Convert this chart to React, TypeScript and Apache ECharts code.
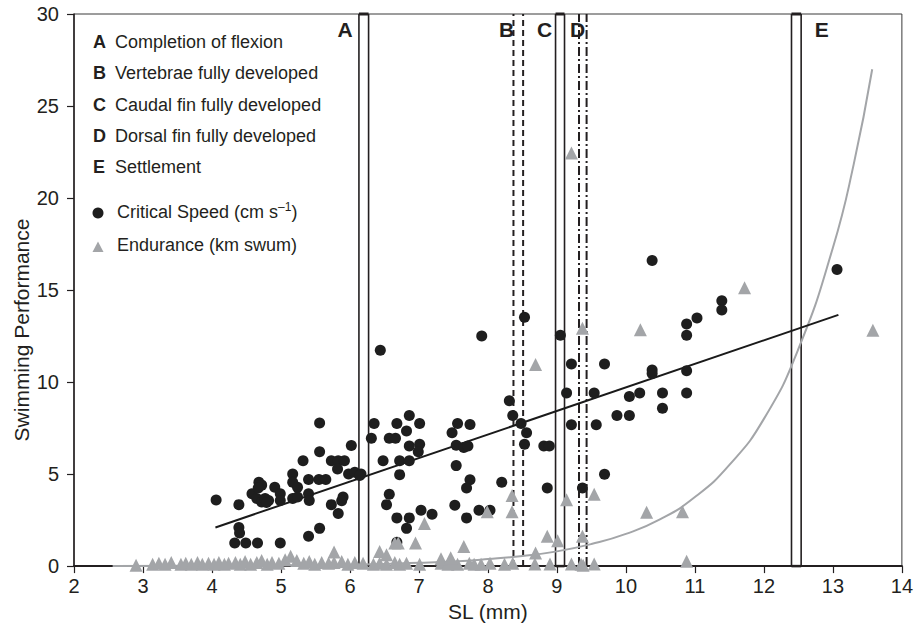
import React, { useEffect, useRef } from "react";
import * as echarts from "echarts";

// ---------- data ----------
const criticalSpeed: number[][] = [
  [4.06, 3.59], [4.39, 3.34], [4.39, 2.1], [4.4, 1.8], [4.33, 1.26], [4.49, 1.26], [4.66, 1.26], [4.99, 1.26],
  [4.58, 3.93], [4.68, 4.56], [4.72, 4.4], [4.65, 3.67], [4.72, 3.48], [4.77, 3.67], [4.82, 3.57], [4.67, 4.24], [4.79, 3.46],
  [4.91, 4.29], [4.99, 3.93], [4.99, 3.57],
  [5.17, 5.01], [5.17, 4.56], [5.24, 4.29], [5.17, 3.67], [5.24, 3.75],
  [5.32, 5.73], [5.4, 4.7], [5.4, 3.93], [5.41, 3.57], [5.4, 1.62],
  [5.56, 2.05], [5.56, 7.77], [5.56, 6.21], [5.55, 4.7], [5.65, 4.7],
  [5.73, 5.73], [5.83, 5.73], [5.92, 5.73], [5.82, 5.28], [5.73, 3.34], [5.83, 2.86], [5.9, 3.75], [5.88, 3.55],
  [6.02, 6.55], [5.98, 5.01], [6.07, 5.1], [6.16, 5.01],
  [6.44, 11.73], [6.35, 7.75], [6.31, 6.95], [6.14, 4.92], [6.48, 5.73], [6.57, 3.9], [6.53, 3.34], [6.57, 6.95],
  [6.66, 6.95], [6.68, 7.75], [6.82, 7.34], [6.86, 8.18], [7.01, 7.75], [6.86, 6.53], [7.01, 6.62], [6.99, 6.21],
  [6.72, 5.73], [6.86, 5.73], [6.72, 4.97], [6.68, 2.62], [6.86, 2.62], [6.82, 2.05], [7.03, 3.04], [7.19, 2.82], [6.68, 1.3],
  [7.48, 7.25], [7.56, 7.75], [7.74, 7.7], [7.54, 6.57], [7.65, 6.44], [7.71, 6.53], [7.54, 5.46], [7.74, 4.69],
  [7.69, 4.24], [7.52, 3.31], [7.69, 2.62], [7.87, 3.04], [8.03, 3.04], [8.2, 4.56], [7.91, 12.5], [8.31, 8.99],
  [8.36, 8.18], [8.48, 7.75], [8.53, 13.52], [8.56, 7.25], [8.53, 6.62],
  [8.81, 6.53], [8.89, 6.53], [8.86, 4.24], [9.05, 12.54], [9.21, 10.98], [9.14, 9.4], [9.21, 7.68], [9.37, 4.24],
  [9.54, 9.4], [9.57, 7.68], [9.69, 10.98], [9.69, 4.99], [9.87, 8.18], [10.05, 8.18], [10.05, 9.22], [10.2, 9.4],
  [10.38, 16.6], [10.38, 10.66], [10.38, 10.47], [10.53, 9.4], [10.53, 8.58], [10.88, 13.16], [10.88, 12.54],
  [10.88, 10.62], [10.88, 9.4], [11.03, 13.48], [11.39, 14.42], [11.39, 13.92], [13.06, 16.12],
];

const endurance: number[][] = [
  [2.9, 0.05], [3.14, 0.1], [3.23, 0.15], [3.32, 0.1], [3.41, 0.2], [3.55, 0.1], [3.62, 0.15], [3.7, 0.1],
  [3.79, 0.2], [3.86, 0.1], [3.95, 0.15], [4.03, 0.1], [4.1, 0.2], [4.18, 0.1], [4.24, 0.15], [4.34, 0.2],
  [4.41, 0.1], [4.48, 0.25], [4.56, 0.1], [4.65, 0.2], [4.72, 0.3], [4.8, 0.1], [4.87, 0.2], [4.97, 0.15],
  [5.06, 0.35], [5.14, 0.53], [5.23, 0.3], [5.33, 0.15], [5.41, 0.25], [5.49, 0.1], [5.59, 0.2], [5.69, 0.15],
  [5.77, 0.76], [5.77, 0.2], [5.88, 0.25], [5.97, 0.1], [6.07, 0.2],
  [6.19, 0.15], [6.34, 0.1], [6.43, 0.15], [6.53, 0.1], [6.65, 0.2], [6.72, 0.1], [6.82, 0.15], [7.01, 0.1],
  [7.32, 0.15], [7.42, 0.1], [7.49, 0.2], [7.56, 0.1], [7.73, 0.15], [7.8, 0.1], [7.9, 0.1], [8.03, 0.15],
  [8.24, 0.1], [8.36, 0.15],
  [6.43, 0.8], [6.53, 0.62], [6.65, 1.25], [6.7, 1.25], [6.95, 1.25], [7.08, 2.32], [7.65, 1.06], [7.99, 2.95],
  [8.35, 3.84], [8.35, 2.95], [7.32, 0.4], [7.46, 0.45],
  [8.69, 10.96], [8.86, 1.62], [9.01, 1.38], [9.14, 3.6], [9.37, 12.93], [9.37, 1.62], [9.54, 3.9], [10.21, 12.84],
  [10.3, 2.93], [10.82, 2.95], [10.88, 0.26], [11.72, 15.13], [13.58, 12.81], [9.21, 22.45], [8.69, 0.71],
  [8.68, 0.12], [8.9, 0.12], [9.21, 0.12], [9.35, 0.1], [9.38, 0.05], [9.54, 0.12],
];

const speedFit: number[][] = [[4.05, 2.1], [13.08, 13.65]];

const enduranceFit: number[][] = [
  [2.56, 0], [4, 0.02], [5, 0.04], [6, 0.08], [7, 0.18], [7.5, 0.25], [8, 0.38], [8.5, 0.55], [9, 0.8],
  [9.5, 1.2], [10, 1.75], [10.5, 2.55], [11, 3.75], [11.5, 5.5], [12, 8.0], [12.5, 11.8], [13, 17.3],
  [13.3, 21.8], [13.57, 27.0],
];

const stageLetters = ["A", "B", "C", "D", "E"];
const stageLabelX = [5.93, 8.27, 8.82, 9.3, 12.84];
const stageLabelY = 29.14;
const stageLeft = [6.13, 8.37, 8.98, 9.32, 12.4];
const stageRight = [6.27, 8.51, 9.11, 9.43, 12.54];
const stageNames = [
  "Completion of flexion",
  "Vertebrae fully developed",
  "Caudal fin fully developed",
  "Dorsal fin fully developed",
  "Settlement",
];

const xAxisName = "SL (mm)";
const yAxisName = "Swimming Performance";

// ---------- presentation ----------
const FONT = "'Liberation Sans', Arial, Helvetica, sans-serif";
const TXT = "#231f20";
const STAGE_KIND = ["box", "dashed", "box", "dashdot", "box"];

function stageSeries(): any[] {
  const out: any[] = [];
  const base = {
    type: "line",
    symbol: "none",
    silent: true,
    clip: false,
    z: 1,
    animation: false,
  };
  stageLetters.forEach((_, i) => {
    const L = stageLeft[i];
    const R = stageRight[i];
    const kind = STAGE_KIND[i];
    let ls: any = { color: TXT, width: 1.6, type: "solid" };
    if (kind === "dashed") ls = { color: TXT, width: 2, type: [6, 4] };
    if (kind === "dashdot") ls = { color: TXT, width: 2, type: [9, 3, 2, 3] };
    out.push({ ...base, data: [[L, 0], [L, 30]], lineStyle: ls });
    out.push({ ...base, data: [[R, 0], [R, 30]], lineStyle: ls });
    if (kind === "box") {
      out.push({ ...base, data: [[L, 30], [R, 30]], lineStyle: { color: TXT, width: 3 } });
      out.push({ ...base, data: [[L, 0], [R, 0]], lineStyle: { color: TXT, width: 2.5 } });
    }
  });
  return out;
}

function legendGraphics(): any[] {
  const els: any[] = [];
  const rowY = [44, 75, 107, 138, 169];
  stageLetters.forEach((l, i) => {
    els.push({
      type: "text",
      left: 93,
      top: rowY[i] - 11,
      style: { text: l, font: `bold 18px ${FONT}`, fill: TXT },
    });
    els.push({
      type: "text",
      left: 115,
      top: rowY[i] - 11,
      style: { text: stageNames[i], font: `18px ${FONT}`, fill: TXT },
    });
  });
  els.push({ type: "circle", shape: { cx: 98, cy: 213, r: 5.5 }, style: { fill: "#1e1e1e" } });
  els.push({
    type: "text",
    left: 117,
    top: 201,
    style: {
      text: "Critical Speed (cm s{sup|–1})",
      fontSize: 18,
      fontFamily: FONT,
      fill: TXT,
      rich: { sup: { fontSize: 12, fontFamily: FONT, fill: TXT, padding: [0, 0, 10, 0] } },
    },
  });
  els.push({
    type: "polygon",
    shape: { points: [[98, 241.5], [92.5, 252], [103.5, 252]] },
    style: { fill: "#a3a5a8" },
  });
  els.push({
    type: "text",
    left: 117,
    top: 236,
    style: { text: "Endurance (km swum)", font: `18px ${FONT}`, fill: TXT },
  });
  // y axis title
  els.push({
    type: "text",
    x: 21,
    y: 330,
    rotation: Math.PI / 2,
    style: {
      text: yAxisName,
      font: `21px ${FONT}`,
      fill: TXT,
      align: "center",
      verticalAlign: "middle",
    },
  });
  return els;
}

export default function App() {
  const ref = useRef<HTMLDivElement>(null);
  useEffect(() => {
    document.body.style.margin = "0";
    const chart = echarts.init(ref.current!, null, { renderer: "svg" });
    const option: any = {
      animation: false,
      backgroundColor: "#ffffff",
      grid: {
        left: 74,
        right: 9,
        top: 14,
        bottom: 56,
        show: true,
        borderColor: "#3a3a3a",
        borderWidth: 1,
        backgroundColor: "transparent",
      },
      xAxis: {
        type: "value",
        min: 2,
        max: 14,
        interval: 1,
        name: xAxisName,
        nameLocation: "middle",
        nameGap: 32,
        nameTextStyle: { fontFamily: FONT, fontSize: 21, color: TXT },
        axisLine: { show: true, onZero: false, lineStyle: { color: TXT, width: 2 } },
        axisTick: { show: true, length: 7, lineStyle: { color: TXT, width: 1.2 } },
        axisLabel: { fontFamily: FONT, fontSize: 20, color: TXT, margin: 10 },
        splitLine: { show: false },
      },
      yAxis: {
        type: "value",
        min: 0,
        max: 30,
        interval: 5,
        axisLine: { show: true, lineStyle: { color: TXT, width: 1.5 } },
        axisTick: { show: true, length: 7, lineStyle: { color: TXT, width: 1.2 } },
        axisLabel: { fontFamily: FONT, fontSize: 20, color: TXT, margin: 15 },
        splitLine: { show: false },
      },
      series: [
        ...stageSeries(),
        {
          type: "line",
          data: enduranceFit,
          symbol: "none",
          smooth: true,
          silent: true,
          z: 2,
          lineStyle: { color: "#a3a5a8", width: 2 },
        },
        {
          type: "line",
          data: speedFit,
          symbol: "none",
          silent: true,
          z: 2,
          lineStyle: { color: "#1a1a1a", width: 2 },
        },
        {
          name: "Critical Speed",
          type: "scatter",
          data: criticalSpeed,
          symbol: "circle",
          symbolSize: 11,
          z: 3,
          itemStyle: { color: "#1e1e1e", opacity: 1 },
        },
        {
          name: "Endurance",
          type: "scatter",
          data: endurance,
          symbol: "triangle",
          symbolSize: 13,
          z: 4,
          itemStyle: { color: "#a3a5a8", opacity: 1 },
        },
      ],
    };
    chart.setOption(option);
    const letterEls = stageLetters.map((l, i) => {
      const p = chart.convertToPixel({ gridIndex: 0 }, [stageLabelX[i], stageLabelY]) as number[];
      return {
        type: "text",
        x: p[0],
        y: p[1],
        z: 10,
        style: {
          text: l,
          font: `bold 21px ${FONT}`,
          fill: TXT,
          align: "center",
          verticalAlign: "middle",
        },
      };
    });
    chart.setOption({ graphic: [...legendGraphics(), ...letterEls] });
    return () => chart.dispose();
  }, []);
  return <div ref={ref} style={{ width: 916, height: 627 }} />;
}
